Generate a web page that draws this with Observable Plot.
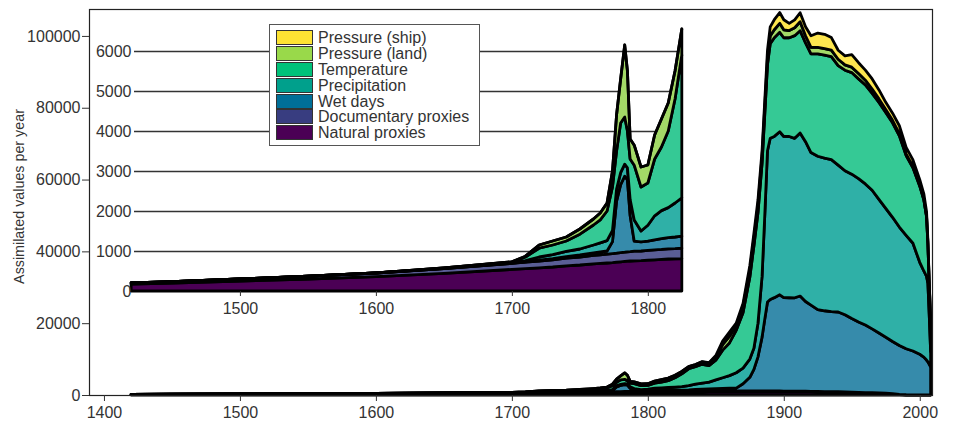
<!DOCTYPE html>
<html><head><meta charset="utf-8">
<script src="https://cdn.jsdelivr.net/npm/d3@7"></script>
<script src="https://cdn.jsdelivr.net/npm/@observablehq/plot@0.6"></script>
<style>
body{margin:0;background:#fff;}
#wrap{position:relative;width:954px;height:421px;font-family:"Liberation Sans",Arial,sans-serif;}
#wrap svg{position:absolute;left:0;top:0;}
#legend{position:absolute;left:269px;top:24px;width:211px;height:122px;border:1.5px solid #555;background:#fff;box-sizing:border-box;padding:5px 0 0 6px;}
.row{display:flex;align-items:center;height:15.8px;}
.sw{width:37px;height:15px;border:1.5px solid #333;box-sizing:border-box;margin-right:5px;flex:none;}
.lab{font-size:16px;color:#333;line-height:15px;white-space:nowrap;}
</style></head>
<body>
<div id="wrap"></div>
<script>
const years = [1420,1450,1500,1550,1600,1650,
1700,1710,1720,1730,1740,1750,1760,1765,1770,
1774,1777,1780,1783,1785,1787,1790,1795,
1800,1805,1810,1815,1820,1825,
1830,1835,1840,1845,1850,1855,1860,1865,1870,1875,
1878,1881,1884,1886,1888,1890,1893,1897,
1900,1904,1908,1912,1916,1920,
1925,1930,1935,1940,1945,1950,1955,1960,1965,1970,1975,1980,1985,1990,1995,
2000,2003,2005,2006,2007,2008];

const naturalProxies = [170,200,250,300,360,440,
540,560,580,600,630,650,680,690,700,
710,720,730,740,745,750,755,760,
770,780,790,800,805,810,
820,830,840,850,860,870,880,885,890,895,
900,900,900,900,900,900,900,900,
900,890,880,870,860,850,
820,790,770,750,700,650,600,550,500,450,400,300,100,0,0,
0,0,0,0,0,0];

const documentaryProxies = [30,35,50,70,90,120,
150,160,170,180,190,200,210,215,220,
225,225,230,230,235,235,240,240,
245,250,250,255,255,260,
260,260,260,260,260,255,250,245,240,235,
230,230,225,225,220,220,215,210,
200,200,195,190,185,180,
175,170,165,160,155,150,140,130,120,110,100,90,80,70,60,
50,40,30,30,30,30];

const wetDays = [0,0,0,0,0,0,
5,10,20,30,40,50,60,70,80,
300,1300,1700,1900,1800,900,250,230,
230,250,270,280,290,300,
350,450,550,600,650,700,750,800,2000,3800,
6000,9500,15000,20000,24800,25500,26000,26800,
26000,26000,26000,26500,25000,24000,
22800,22500,22300,22200,21500,20500,19600,18800,17800,16700,15600,14500,13600,12800,12200,
11300,10500,9700,9200,8500,7800];

const precipitation = [0,0,0,0,0,5,
10,30,80,100,130,150,200,230,260,
280,300,300,300,300,400,530,270,
400,600,700,750,850,960,
1170,1460,1650,1890,2430,2980,3520,4270,4370,5070,
5870,9370,16900,28900,42100,44900,44900,45400,
44900,44900,44400,45400,44500,42500,
42700,42500,42300,40900,40100,40200,39900,39300,38600,37200,35900,34600,33000,31600,30000,
25600,24000,23300,21800,13500,4200];

const temperature = [0,0,0,0,5,10,
20,90,220,240,260,370,500,575,740,
1085,955,1240,1180,920,1015,1370,1100,
1055,1420,1590,1915,2600,3570,
4700,4900,5250,4600,5500,7700,9100,11800,15400,22800,
28500,30800,31500,28200,24000,26300,27500,27700,
27500,27500,28600,28500,27500,27500,
28500,28700,28700,27700,28000,28300,27800,27600,27000,27000,26700,26300,25400,22200,21000,
21200,19800,16600,11000,8400,8700];

const pressureLand = [0,0,0,0,0,0,
5,20,80,100,100,130,150,170,200,
400,900,1100,1800,1500,500,500,500,
450,600,700,700,700,650,
600,600,700,700,1000,1500,1800,1500,1800,2000,
2000,2000,2000,2000,2000,2200,2200,2500,
2200,2000,2200,2500,2000,1800,
1800,1800,1800,1800,1500,1500,1500,1300,1200,1000,800,700,600,500,400,
300,200,200,150,100,50];

const pressureShip = [0,0,0,0,0,0,
0,0,0,0,0,0,0,0,0,
0,0,0,0,0,0,0,0,
0,0,0,0,0,0,
0,0,50,100,300,1000,1200,500,800,1200,
1500,1500,1500,1800,2000,2500,2800,3000,
2800,2000,2200,2500,2500,3200,
4000,4000,3500,2500,2500,3500,3000,2800,2800,2500,2000,2000,2200,1800,1800,
1500,1500,1200,800,500,200];

const seriesNames = ["Natural proxies","Documentary proxies","Wet days","Precipitation","Temperature","Pressure (land)","Pressure (ship)"];
const seriesValues = [naturalProxies,documentaryProxies,wetDays,precipitation,temperature,pressureLand,pressureShip];
const fillColors = ["#4b0055","#5a5e96","#368bab","#2fb0a7","#35c995","#a3d967","#fde64f"];
const legendColors = ["#4b0055","#383d80","#006f97","#00a08c","#00c27a","#99d94a","#fde333"];
const mainYTicks = [0,20000,40000,60000,80000,100000];
const mainXTicks = [1400,1500,1600,1700,1800,1900,2000];
const insetYTicks = [0,1000,2000,3000,4000,5000,6000];
const insetXTicks = [1500,1600,1700,1800];
const insetEnd = 1825;
const yTitle = "Assimilated values per year";

const data = [];
seriesNames.forEach((s,i)=>years.forEach((yr,j)=>data.push({year:yr,series:s,value:seriesValues[i][j]})));
const insetData = data.filter(d=>d.year<=insetEnd);

const common = {
  width:954, height:421,
  style:{fontFamily:'"Liberation Sans", Arial, sans-serif', fontSize:"16px", color:"#333", background:"transparent", overflow:"visible"},
  color:{domain:seriesNames, range:fillColors}
};
const areaOpts = {x:"year", y:"value", z:"series", fill:"series", order:seriesNames, stroke:"black", strokeWidth:2.8, strokeLinejoin:"round"};

const main = Plot.plot({
  ...common,
  marginLeft:89, marginRight:22, marginTop:9, marginBottom:26,
  x:{domain:[1389,2009]},
  y:{domain:[0,107500]},
  marks:[
    Plot.areaY(data, areaOpts),
    Plot.frame({stroke:"#222", strokeWidth:1.2}),
    Plot.axisY({ticks:mainYTicks, tickFormat:"d", tickSize:7, tickPadding:2, label:null}),
    Plot.axisX({ticks:mainXTicks, tickFormat:"d", tickSize:6, tickPadding:5, label:null}),
    Plot.text([yTitle], {text:d=>d, frameAnchor:"left", textAnchor:"middle", rotate:-90, dx:-70, dy:-6, fontSize:14.3, fill:"#333"})
  ]
});

const inset = Plot.plot({
  ...common,
  marginLeft:134, marginRight:272, marginTop:28, marginBottom:130,
  x:{domain:[1389,2009], range:[89,932]},
  y:{domain:[0,6575]},
  marks:[
    Plot.gridY({ticks:insetYTicks.slice(1), stroke:"#333", strokeOpacity:1, strokeWidth:1.4}),
    Plot.areaY(insetData, areaOpts),
    Plot.axisY({ticks:insetYTicks, tickFormat:"d", tickSize:0, tickPadding:3, label:null}),
    Plot.axisX({ticks:insetXTicks, tickFormat:"d", tickSize:5, tickPadding:6, label:null})
  ]
});

const wrap = document.getElementById("wrap");
wrap.appendChild(main);
wrap.appendChild(inset);

const legend = document.createElement("div");
legend.id = "legend";
for (let i = seriesNames.length - 1; i >= 0; i--) {
  const row = document.createElement("div");
  row.className = "row";
  const sw = document.createElement("div");
  sw.className = "sw";
  sw.style.background = legendColors[i];
  const lab = document.createElement("span");
  lab.className = "lab";
  lab.textContent = seriesNames[i];
  row.appendChild(sw); row.appendChild(lab);
  legend.appendChild(row);
}
wrap.appendChild(legend);
</script>
</body></html>
